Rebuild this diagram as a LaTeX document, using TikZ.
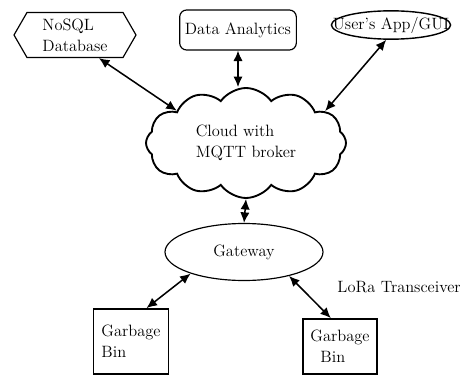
\documentclass[tikz,border=0pt]{standalone}
\usepackage{tikz}
\usetikzlibrary{shapes.geometric,shapes.symbols,arrows.meta}

\begin{document}
\begin{tikzpicture}[
		every node/.style={font=\fontsize{14}{18}\selectfont},
		link/.style={line width=1.3pt,{Latex[length=9pt,width=8pt]}-{Latex[length=9pt,width=8pt]}},
		binbox/.style={draw,line width=1.2pt,align=left,inner sep=0pt,minimum width=2.25cm}]
		\useasboundingbox (0,0) rectangle (13.95,11.28);
		\node[draw,line width=1pt,signal,signal to=west and east,signal pointer angle=120,minimum width=3.66cm,minimum height=1.35cm,inner sep=1pt,align=left] (nosql) at (2.25,10.23) {NoSQL\\Database};
		\node[draw,line width=1pt,rounded corners=6pt,minimum width=3.5cm,minimum height=1.2cm,inner sep=0pt] (data) at (7.14,10.38) {Data Analytics};
		\node[draw,line width=1.2pt,ellipse,inner xsep=-0.48cm,inner ysep=0pt,minimum height=0.85cm] (app) at (11.73,10.53) {User's App/GUI};
		\node[draw,line width=1.6pt,cloud,cloud puffs=12,cloud puff arc=110,aspect=1.8,minimum width=6cm,minimum height=3.3cm,align=left,inner sep=0pt] (cloud) at (7.38,6.99) {Cloud with\\MQTT broker};
		\node[draw,line width=1pt,ellipse,minimum width=4.74cm,minimum height=1.71cm] (gw) at (7.32,3.72) {Gateway};
		\node[binbox,minimum height=1.95cm] (binl) at (3.93,1.04) {Garbage\\Bin};
		\node[binbox,minimum height=1.65cm,minimum width=2.22cm] (binr) at (10.2,0.89) {Garbage\\\hspace{0.3cm}Bin};
		\node[anchor=west] (lora) at (10.0,2.67) {LoRa Transceiver};
		\draw[link] (nosql.-44) -- (cloud.155);
		\draw[link] (data.south) -- (data.south |- cloud.north);
		\draw[link] (app.-108) -- (cloud.22);
		\draw[link] (cloud.south) -- (gw.north);
		\draw[link] (gw.-158) -- (binl.65);
		\draw[link] (gw.-28) -- (binr.108);
\end{tikzpicture}
\end{document}
